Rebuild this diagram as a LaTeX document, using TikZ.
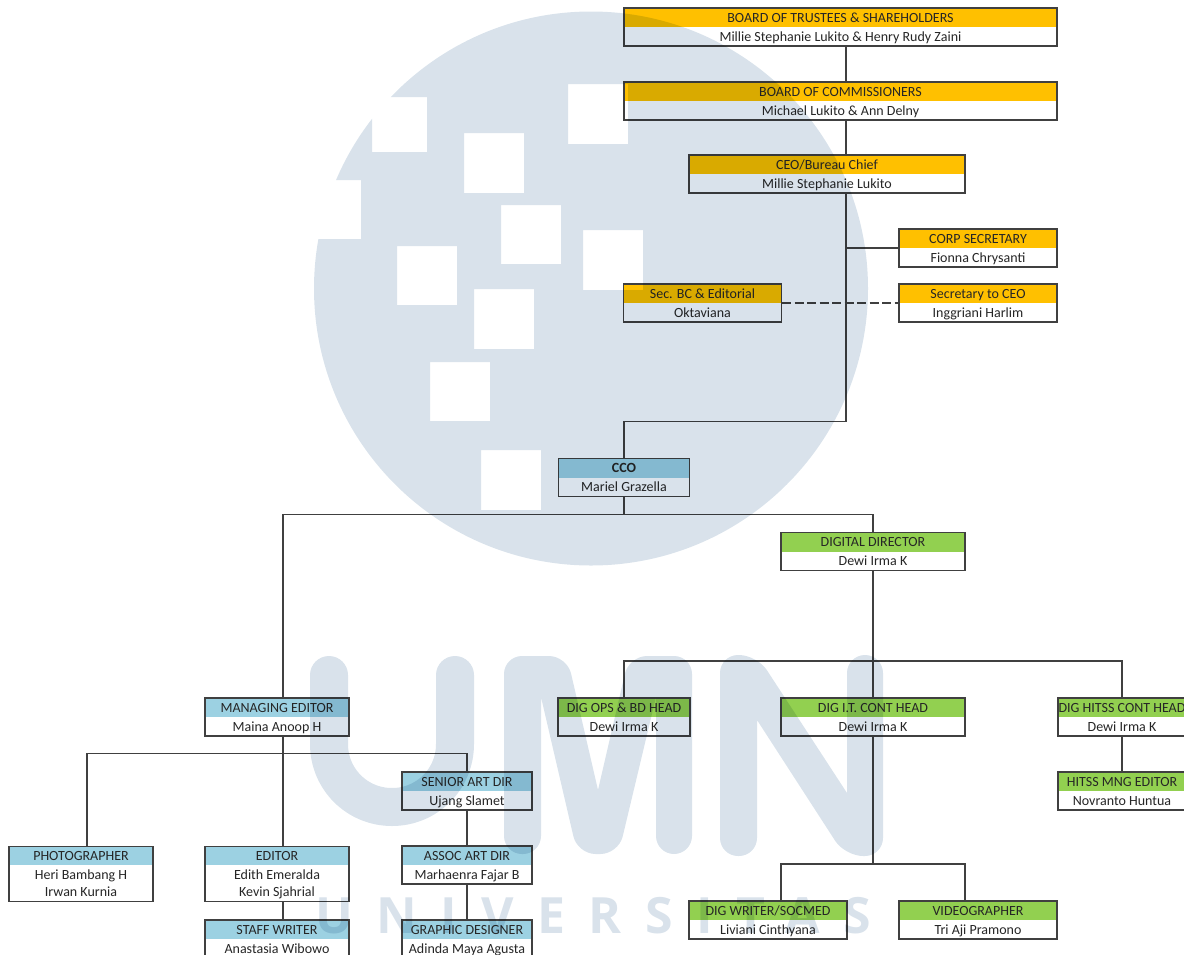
\documentclass[tikz,border=0pt]{standalone}
\usepackage{fontspec}
\setmainfont{Carlito}
\newfontfamily\wmfont[LetterSpace=47]{Open Sans}
\usetikzlibrary{shapes.multipart}
\definecolor{goldhead}{HTML}{FFC000}
\definecolor{bluehead}{HTML}{9CD1E2}
\definecolor{greenhead}{HTML}{92D050}
\definecolor{boxline}{HTML}{404040}
\definecolor{boxtext}{HTML}{262626}
\definecolor{wmblue}{HTML}{D9E2EB}
\newcommand{\rowln}{\rule[-4pt]{0pt}{17.5pt}}
\tikzset{
    orgbox/.style={rectangle split, rectangle split parts=2, rectangle split draw splits=false,
        rectangle split part fill={#1,white}, draw=boxline, line width=1.4pt, inner ysep=0pt, inner xsep=0pt,
        text=boxtext, align=center, font=\fontsize{14}{17.5}\selectfont},
    wire/.style={draw=boxline, line width=1.4pt},
    wmfill/.style={fill=wmblue, blend mode=multiply}
}
\begin{document}
\begin{tikzpicture}[x=1pt,y=-1pt]
    \useasboundingbox (0,0) rectangle (1184,954);

    % Board and secretaries
    \node[orgbox=goldhead, minimum width=433pt] (trustees) at (840.5,27) {\rowln BOARD OF TRUSTEES \& SHAREHOLDERS\nodepart{two}\rowln Millie Stephanie Lukito \& Henry Rudy Zaini};
    \node[orgbox=goldhead, minimum width=433pt] (commiss) at (840.5,101) {\rowln BOARD OF COMMISSIONERS\nodepart{two}\rowln Michael Lukito \& Ann Delny};
    \node[orgbox=goldhead, minimum width=276pt] (ceo) at (827,174) {\rowln CEO/Bureau Chief\nodepart{two}\rowln Millie Stephanie Lukito};
    \node[orgbox=goldhead, minimum width=158pt] (corpsec) at (978,248) {\rowln CORP SECRETARY\nodepart{two}\rowln Fionna Chrysanti};
    \node[orgbox=goldhead, minimum width=158pt] (secbc) at (702.5,303) {\rowln Sec. BC \& Editorial\nodepart{two}\rowln Oktaviana};
    \node[orgbox=goldhead, minimum width=158pt] (secceo) at (978,303) {\rowln Secretary to CEO\nodepart{two}\rowln Inggriani Harlim};

    % Editorial side
    \node[orgbox=bluehead, minimum width=131pt] (cco) at (624,477.5) {\rowln\textbf{CCO}\nodepart{two}\rowln Mariel Grazella};
    \node[orgbox=bluehead, minimum width=144pt] (maneditor) at (277,717) {\rowln MANAGING EDITOR\nodepart{two}\rowln Maina Anoop H};
    \node[orgbox=bluehead, minimum width=130pt] (senart) at (467,791) {\rowln SENIOR ART DIR\nodepart{two}\rowln Ujang Slamet};
    \node[orgbox=bluehead, minimum width=144pt] (photo) at (81,874) {\rowln PHOTOGRAPHER\nodepart{two}\rowln Heri Bambang H\\\rowln Irwan Kurnia};
    \node[orgbox=bluehead, minimum width=144pt] (editor) at (277,874) {\rowln EDITOR\nodepart{two}\rowln Edith Emeralda\\\rowln Kevin Sjahrial};
    \node[orgbox=bluehead, minimum width=130pt] (assoc) at (467,865) {\rowln ASSOC ART DIR\nodepart{two}\rowln Marhaenra Fajar B};
    \node[orgbox=bluehead, minimum width=144pt] (staff) at (277,939) {\rowln STAFF WRITER\nodepart{two}\rowln Anastasia Wibowo};
    \node[orgbox=bluehead, minimum width=130pt] (graphic) at (467,939) {\rowln GRAPHIC DESIGNER\nodepart{two}\rowln Adinda Maya Agusta};

    % Digital side
    \node[orgbox=greenhead, minimum width=184pt] (digdir) at (873,551.5) {\rowln DIGITAL DIRECTOR\nodepart{two}\rowln Dewi Irma K};
    \node[orgbox=greenhead, minimum width=132pt] (digops) at (624,717) {\rowln DIG OPS \& BD HEAD\nodepart{two}\rowln Dewi Irma K};
    \node[orgbox=greenhead, minimum width=184pt] (digit) at (873,717) {\rowln DIG I.T. CONT HEAD\nodepart{two}\rowln Dewi Irma K};
    \node[orgbox=greenhead, minimum width=128pt] (dighitss) at (1122,717) {\rowln DIG HITSS CONT HEAD\nodepart{two}\rowln Dewi Irma K};
    \node[orgbox=greenhead, minimum width=128pt] (hitssmng) at (1122,791) {\rowln HITSS MNG EDITOR\nodepart{two}\rowln Novranto Huntua};
    \node[orgbox=greenhead, minimum width=158pt] (digwriter) at (768,920) {\rowln DIG WRITER/SOCMED\nodepart{two}\rowln Liviani Cinthyana};
    \node[orgbox=greenhead, minimum width=158pt] (video) at (978,920) {\rowln VIDEOGRAPHER\nodepart{two}\rowln Tri Aji Pramono};

    % Points the lines turn at
    \coordinate (trunk) at (846,421.5);
    \coordinate (ccosplit) at (624,514.5);
    \coordinate (digsplit) at (873,661);
    \coordinate (mansplit) at (283,753.5);
    \coordinate (vidsplit) at (873,864);
    \coordinate (photox) at (87,0);
    \coordinate (writerx) at (781,0);
    \coordinate (videox) at (965,0);

    % Connectors
    \path[wire] (trustees.south -| trunk) -- (commiss.north -| trunk);
    \path[wire] (commiss.south -| trunk) -- (ceo.north -| trunk);
    \path[wire] (ceo.south -| trunk) -- (trunk) -| (cco.north);
    \path[wire] (corpsec.west) -- (corpsec.west -| trunk);
    \path[wire, line width=2.2pt, dash pattern=on 9pt off 3.5pt] (secbc.east) -- (secceo.west);
    \path[wire] (cco.south) -- (ccosplit);
    \path[wire] (digdir.north) |- (ccosplit -| mansplit) -- (maneditor.north -| mansplit);
    \path[wire] (digdir.south) -- (digit.north);
    \path[wire] (digops.north) |- (dighitss.north |- digsplit) -- (dighitss.north);
    \path[wire] (dighitss.south) -- (hitssmng.north);
    \path[wire] (maneditor.south -| mansplit) -- (editor.north -| mansplit);
    \path[wire] (editor.north -| photox) |- (mansplit) -| (senart.north);
    \path[wire] (editor.south -| mansplit) -- (staff.north -| mansplit);
    \path[wire] (senart.south) -- (assoc.north);
    \path[wire] (assoc.south) -- (graphic.north);
    \path[wire] (digit.south) -- (vidsplit);
    \path[wire] (digwriter.north -| writerx) |- (vidsplit) -| (video.north -| videox);

    % Watermark over everything
    \begin{scope}
        \clip (591,288.5) circle[radius=277];
        \fill[wmfill, even odd rule] (300,0) rectangle (880,580)
            (301,180) rectangle (361,239)
            (372,97) rectangle (427,152)
            (464,133) rectangle (524,193)
            (568,84) rectangle (628,144)
            (501,205) rectangle (561,264)
            (583,230) rectangle (643,290)
            (397,246) rectangle (457,305)
            (474,289) rectangle (534,349)
            (430,362) rectangle (490,421)
            (481,450) rectangle (541,510);
    \end{scope}
    \draw[draw=wmblue, blend mode=multiply, line width=38pt, line cap=round] (329,675) -- (329,744)
        .. controls (329,779) and (357,807) .. (392,807) .. controls (427,807) and (455,779) .. (455,744) -- (455,675);
    \fill[wmfill] (504,750) [rounded corners=18pt] -- (504,656) -- (567,656) [sharp corners] -- (598,790)
        [rounded corners=18pt] -- (629,656) -- (692,656) -- (692,854) -- (656,854) [sharp corners] -- (656,697)
        [rounded corners=18pt] -- (618.5,854) -- (577.5,854) [sharp corners] -- (541,697)
        [rounded corners=18pt] -- (541,854) -- (504,854) -- cycle;
    \fill[wmfill] (720,750) [rounded corners=18pt] -- (720,655) -- (757,655) [sharp corners] -- (847,793)
        [rounded corners=18pt] -- (847,655) -- (883,655) -- (883,856) -- (845,856) [sharp corners] -- (757,720)
        [rounded corners=18pt] -- (757,856) -- (720,856) -- cycle;
    \node[anchor=west, text=wmblue, blend mode=multiply, font=\wmfont\bfseries\fontsize{50}{50}\selectfont] (wmtext) at (312,916) {UNIVERSITAS};
\end{tikzpicture}
\end{document}
